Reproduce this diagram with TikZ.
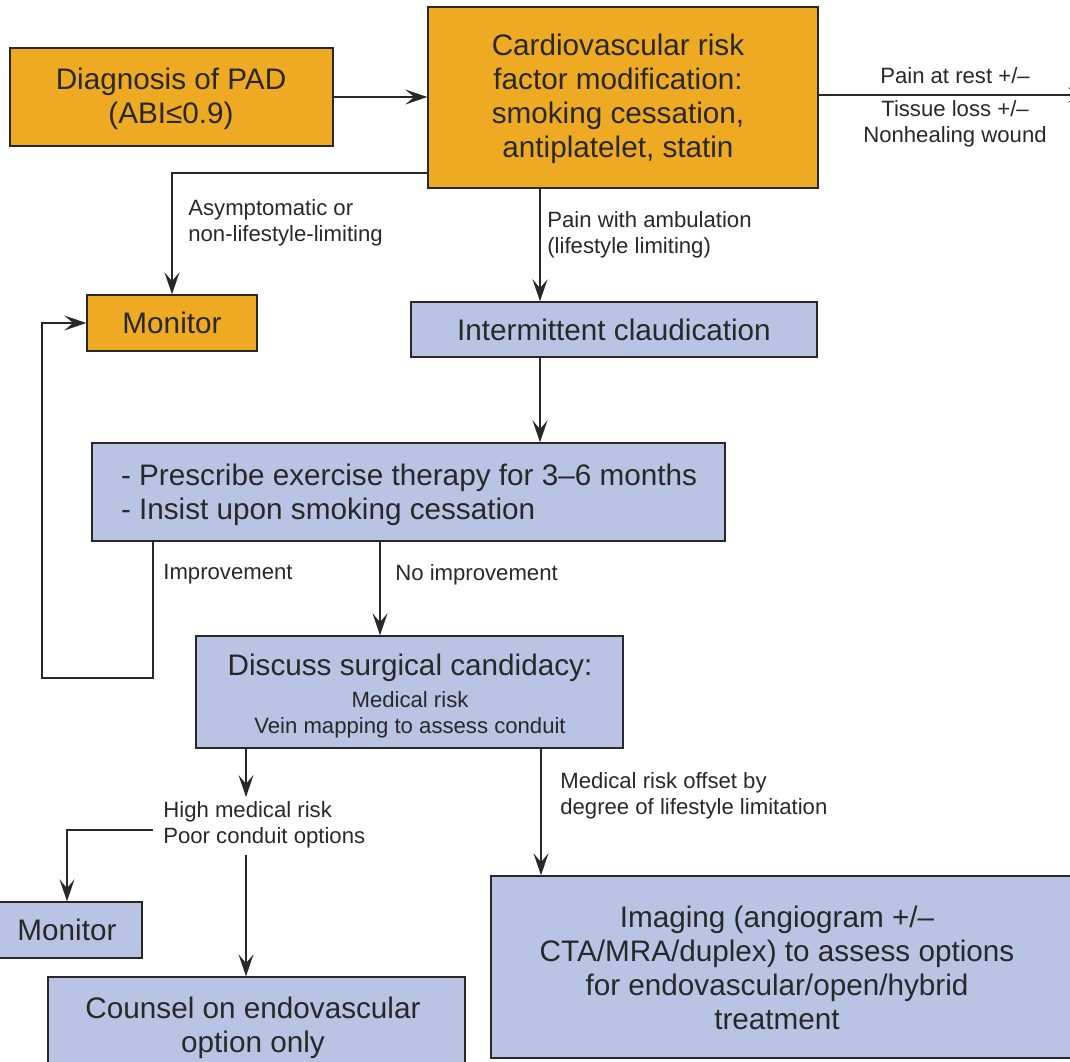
\documentclass[tikz,border=0pt]{standalone}
\usepackage{fontspec}
\setmainfont{Liberation Sans}
\usetikzlibrary{arrows.meta,calc}
\definecolor{orng}{RGB}{238,170,34}
\definecolor{blu}{RGB}{185,196,228}
\definecolor{ink}{RGB}{40,40,40}
\newcommand{\bigf}{\fontsize{16.9}{19.4}\selectfont}
\newcommand{\smf}{\fontsize{12.6}{14.8}\selectfont}
\begin{document}
\begin{tikzpicture}[x=0.02cm,y=-0.02cm,
  box/.style={draw=ink, line width=0.8pt, inner sep=0pt, align=center, font=\bigf, text=ink},
  obox/.style={box, fill=orng},
  bbox/.style={box, fill=blu},
  txt/.style={inner sep=0pt, align=center, font=\bigf, text=ink},
  arr/.style={draw=ink, line width=1.1pt, -{Stealth[length=12.5pt,width=8.5pt,inset=5pt]}},
  lbl/.style={font=\smf, text=ink, inner sep=0pt, align=left, anchor=west},
]
\useasboundingbox (0,0) rectangle (1070,1061);
\clip (0,0) rectangle (1070,1061);
% boxes
\node[obox, minimum width=6.46cm, minimum height=1.96cm] (diag) at (171.5,97) {};
\node[txt] (diagt) at (171,99) {Diagnosis of PAD\\(ABI≤0.9)};
\node[obox, minimum width=7.8cm, minimum height=3.62cm] (cardio) at (623,97.5) {};
\node[txt] (cardiot) at (618,99) {Cardiovascular risk\\factor modification:\\smoking cessation,\\antiplatelet, statin};
\node[obox, minimum width=3.4cm, minimum height=1.12cm] (mon1) at (172,323) {Monitor};
\node[bbox, minimum width=8.12cm, minimum height=1.1cm] (inter) at (614,329.5) {Intermittent claudication};
\node[bbox, minimum width=12.66cm, minimum height=1.96cm] (ex) at (408.5,492) {};
\node[txt, align=left] (ext) at (409,494.5) {- Prescribe exercise therapy for 3–6 months\\- Insist upon smoking cessation};
\node[bbox, minimum width=8.54cm, minimum height=2.24cm] (disc) at (409.5,692) {};
\node[txt, font=\smf] (disct) at (410,696) {{\bigf Discuss surgical candidacy:}\\[3.2pt]Medical risk\\Vein mapping to assess conduit};
\node[bbox, minimum width=3cm, minimum height=1.12cm] (mon2) at (67,930) {Monitor};
\node[bbox, minimum width=8.34cm, minimum height=1.92cm] (coun) at (256.5,1025) {};
\node[txt] (count) at (253,1028) {Counsel on endovascular\\option only};
\node[bbox, minimum width=12cm, minimum height=3.64cm] (img) at (791,967) {};
\node[txt] (imgt) at (777,968) {Imaging (angiogram +/–\\CTA/MRA/duplex) to assess options\\for endovascular/open/hybrid\\treatment};
% labels
\node[lbl] (l1) at (188,222.5) {Asymptomatic or\\non-lifestyle-limiting};
\node[lbl] (l2) at (547,234.5) {Pain with ambulation\\(lifestyle limiting)};
\node[lbl] (l3) at (163,574.5) {Improvement};
\node[lbl] (l4) at (395,574.5) {No improvement};
\node[lbl] (l5) at (163,824.5) {High medical risk\\Poor conduit options};
\node[lbl] (l6) at (560,795.5) {Medical risk offset by\\degree of lifestyle limitation};
\node[lbl, anchor=center, align=center] (l7) at (955,76) {Pain at rest +/–};
\node[lbl, anchor=center, align=center] (l8) at (955,124) {Tissue loss +/–\\Nonhealing wound};
% connectors
\coordinate (rend) at (1090,95);
\coordinate (x540) at (540,0);
\coordinate (x380) at (380,0);
\coordinate (x541) at (541,0);
\coordinate (lp1) at (153,678);
\coordinate (lp2) at (42,678);
\coordinate (hm) at (246,797);
\coordinate (h1) at (153,830);
\coordinate (h2) at (246,855);
\draw[arr] (diag.east) -- (diag.east -| cardio.west);
\draw[arr] (cardio.east |- rend) -- (rend);
\draw[arr] ($(cardio.south west)+(0,-16)$) -| (mon1.north);
\draw[arr] (cardio.south -| x540) -- (inter.north -| x540);
\draw[arr] (inter.south -| x540) -- (ex.north -| x540);
\draw[arr] (ex.south -| x380) -- (disc.north -| x380);
\draw[arr] (ex.south -| lp1) -- (lp1) -- (lp2) |- (mon1.west);
\draw[arr] (disc.south -| hm) -- (hm);
\draw[arr] (h1) -| (mon2.north);
\draw[arr] (h2) -- (h2 |- coun.north);
\draw[arr] (disc.south -| x541) -- (img.north -| x541);
\end{tikzpicture}
\end{document}
